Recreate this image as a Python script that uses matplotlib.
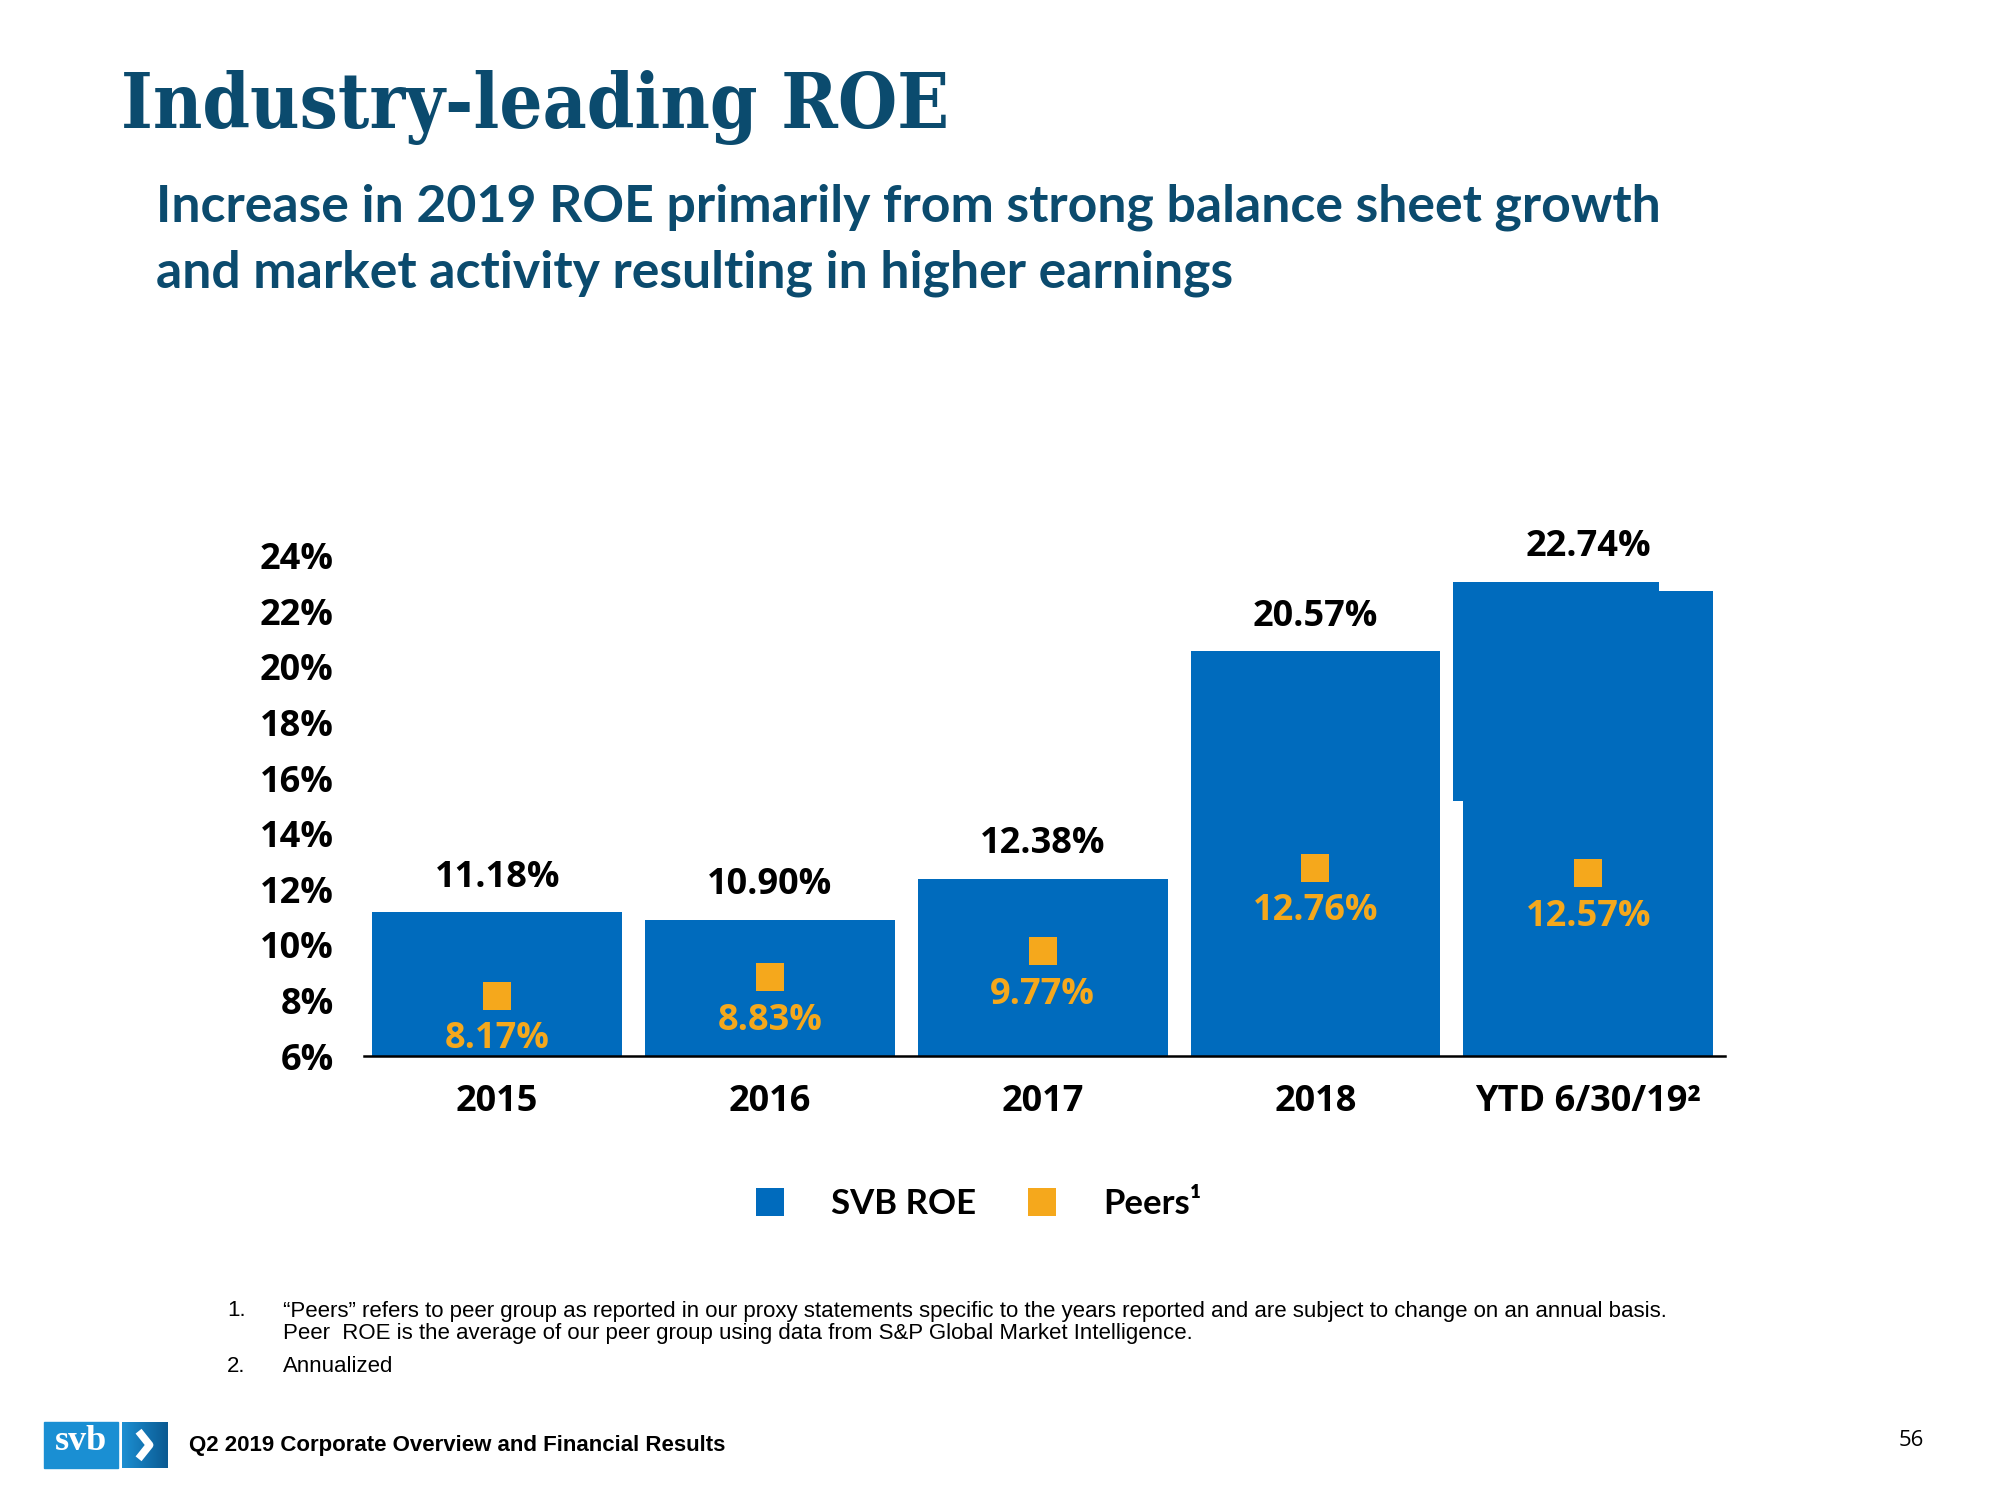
import matplotlib.pyplot as plt
import numpy as np
from matplotlib.lines import Line2D
from matplotlib.patches import Rectangle

# data
years = ['2015', '2016', '2017', '2018', 'YTD 6/30/19²']
svb_roe = [11.18, 10.90, 12.38, 20.57, 22.74]
peers_roe = [8.17, 8.83, 9.77, 12.76, 12.57]
y_ticks = [6, 8, 10, 12, 14, 16, 18, 20, 22, 24]
# stray shifted block sitting on the YTD bar in the original slide (low, high)
ytd_block = [15.18, 23.07]

BASE = 6
BLUE = '#006BBD'
ORANGE = '#F5A81C'
NAVY = '#0B4B6E'
LABEL_FONT = ['Open Sans', 'DejaVu Sans']
HEAD_FONT = ['Lato', 'DejaVu Sans']
ARIAL = ['Liberation Sans', 'DejaVu Sans']


def fpos(x, y):
    '''pixel position on the 2000x1500 slide -> figure fraction'''
    return x / 2000, 1 - y / 1500


fig = plt.figure(figsize=(20, 15), dpi=100)
fig.patch.set_facecolor('white')

# headings
fig.text(*fpos(121, 128), 'Industry-leading ROE', family=['DejaVu Serif'],
         fontstretch='condensed', weight='bold', size=54.5, color=NAVY, va='baseline')
subtitle = ['Increase in 2019 ROE primarily from strong balance sheet growth',
            'and market activity resulting in higher earnings']
for i, line in enumerate(subtitle):
    fig.text(*fpos(156, 207 + 66 * i), line, family=HEAD_FONT, weight='bold',
             size=37.3, color=NAVY, va='center')

# chart
ax = fig.add_axes([0.1818, 0.296, 0.6805, 0.352])
x = np.arange(len(years))
ax.bar(x, [v - BASE for v in svb_roe], bottom=BASE, width=0.915, color=BLUE)
ax.bar(x[-1] - 0.117, ytd_block[1] - ytd_block[0], bottom=ytd_block[0],
       width=0.754, color=BLUE)
ax.plot(x, peers_roe, linestyle='none', marker='s', ms=20, mew=0, color=ORANGE)

tops = list(svb_roe)
tops[-1] = max(tops[-1], ytd_block[1])
for i, v in enumerate(svb_roe):
    ax.annotate(f'{v:.2f}%', (x[i], tops[i]), xytext=(0, 24.8),
                textcoords='offset points', ha='center', va='center',
                family=LABEL_FONT, weight='bold', size=26, color='black')
for i, v in enumerate(peers_roe):
    ax.annotate(f'{v:.2f}%', (x[i], v), xytext=(0, -31.2),
                textcoords='offset points', ha='center', va='center',
                family=LABEL_FONT, weight='bold', size=26, color=ORANGE)

ax.set_xlim(-0.49, 4.5)
ax.set_ylim(BASE, 25)
ax.set_yticks(y_ticks)
ax.set_yticklabels([f'{t}%' for t in y_ticks])
ax.set_xticks(x)
ax.set_xticklabels(years)
for lab in ax.get_xticklabels() + ax.get_yticklabels():
    lab.set_family(LABEL_FONT)
    lab.set_weight('bold')
    lab.set_size(26)
ax.tick_params(axis='y', length=0, pad=21.6)
ax.tick_params(axis='x', length=0, pad=20)
for s in ['top', 'right', 'left']:
    ax.spines[s].set_visible(False)
ax.spines['bottom'].set_linewidth(1.8)
ax.set_facecolor('none')

# legend
handles = [Line2D([], [], linestyle='none', marker='s', ms=20, mew=0, color=BLUE),
           Line2D([], [], linestyle='none', marker='s', ms=20, mew=0, color=ORANGE)]
fig.legend(handles, ['SVB ROE', 'Peers¹'], loc='center', bbox_to_anchor=fpos(977, 1204),
           ncol=2, frameon=False, handlelength=1.0, handletextpad=1.27,
           columnspacing=1.37, prop={'family': HEAD_FONT, 'weight': 'bold', 'size': 25})

# footnotes
notes = [('1.', '“Peers” refers to peer group as reported in our proxy statements specific to the years reported and are subject to change on an annual basis.', 1311),
         ('', 'Peer  ROE is the average of our peer group using data from S&P Global Market Intelligence.', 1334),
         ('2.', 'Annualized', 1366)]
for num, txt, y in notes:
    fig.text(*fpos(227, y), num, family=ARIAL, size=16, va='center')
    fig.text(*fpos(283, y), txt, family=ARIAL, size=16, va='center')

# footer
fig.text(*fpos(189, 1445), 'Q2 2019 Corporate Overview and Financial Results',
         family=ARIAL, weight='bold', size=16, va='center')
fig.text(*fpos(1911, 1441), '56', family=LABEL_FONT, size=16, ha='center', va='center')

fig.patches.append(Rectangle(fpos(44, 1468), 74 / 2000, 46 / 1500, color='#1A8FD3',
                             transform=fig.transFigure, figure=fig))
fig.text(*fpos(81, 1442), 'svb', family=['Liberation Serif', 'DejaVu Serif'],
         weight='bold', size=26, color='white', ha='center', va='center')
lax = fig.add_axes([*fpos(122, 1468), 46 / 2000, 46 / 1500])
grad = np.linspace(0, 1, 64).reshape(1, -1)
lax.imshow(grad, cmap=plt.matplotlib.colors.LinearSegmentedColormap.from_list(
    'logo', ['#1C8FD2', '#0B5A92']), aspect='auto', extent=(0, 1, 0, 1))
lax.plot([0.36, 0.6, 0.36], [0.8, 0.5, 0.2], color='white', lw=5.5,
         solid_capstyle='butt')
lax.set_xlim(0, 1)
lax.set_ylim(0, 1)
lax.axis('off')

plt.savefig('out.png', transparent=False)
